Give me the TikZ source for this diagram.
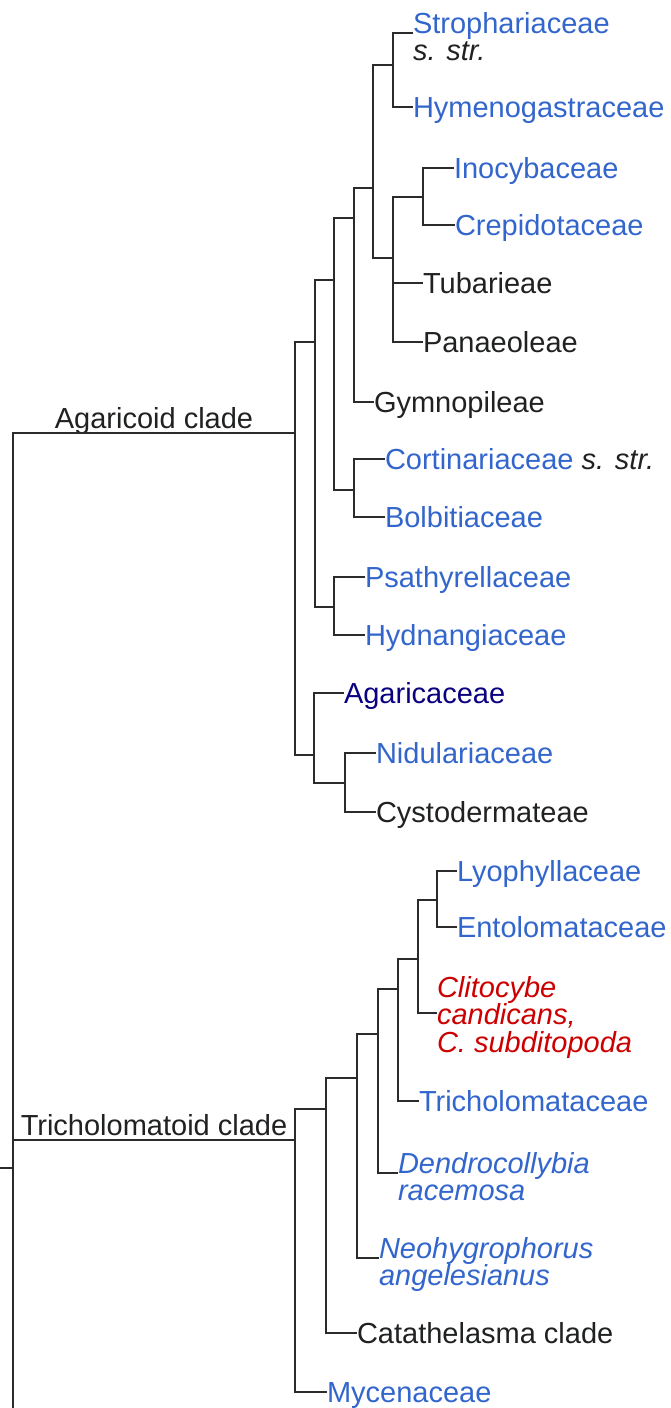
\documentclass[tikz,border=0pt]{standalone}
\usepackage{fontspec}
\setmainfont{Liberation Sans}
\definecolor{lnk}{HTML}{3366CC}
\definecolor{vis}{HTML}{0B0080}
\definecolor{redlnk}{HTML}{CC0000}
\definecolor{txt}{HTML}{202122}
\definecolor{edge}{HTML}{2B2B2B}
\begin{document}
\begin{tikzpicture}[x=1pt,y=-1pt,
  every node/.style={inner sep=0pt, outer sep=0pt, font=\fontsize{29}{27.5}\selectfont},
  leaf/.style={anchor=west, text height=20.8pt, text depth=0pt},
  multi/.style={anchor=base west},
  cladelbl/.style={anchor=base, text=txt},
  br/.style={draw=edge, line width=2.4pt}
]
\useasboundingbox[fill=white] (0,0) rectangle (671,1408);

% ---------- leaves: Agaricoid clade ----------
\node[multi,text=txt] (stro) at (413,33) {\vtop{\hbox{\color{lnk}Strophariaceae}\hbox{\itshape s. str.}}};
\node[leaf,text=lnk] (hyme) at (413,107) {Hymenogastraceae};
\node[leaf,text=lnk] (ino)  at (454,168) {Inocybaceae};
\node[leaf,text=lnk] (crep) at (455,225) {Crepidotaceae};
\node[leaf,text=txt] (tuba) at (423,283) {Tubarieae};
\node[leaf,text=txt] (pana) at (423,342) {Panaeoleae};
\node[leaf,text=txt] (gymn) at (374,402) {Gymnopileae};
\node[leaf,text=txt] (cort) at (385,459) {{\color{lnk}Cortinariaceae} \textit{s. str.}};
\node[leaf,text=lnk] (bolb) at (385,517) {Bolbitiaceae};
\node[leaf,text=lnk] (psat) at (365,577) {Psathyrellaceae};
\node[leaf,text=lnk] (hydn) at (365,635) {Hydnangiaceae};
\node[leaf,text=vis] (agar) at (344,693) {Agaricaceae};
\node[leaf,text=lnk] (nidu) at (376,753) {Nidulariaceae};
\node[leaf,text=txt] (cyst) at (376,812) {Cystodermateae};

% ---------- leaves: Tricholomatoid clade ----------
\node[leaf,text=lnk] (lyop) at (457,871) {Lyophyllaceae};
\node[leaf,text=lnk] (ento) at (457,927) {Entolomataceae};
\node[multi,text=redlnk] (clit) at (437,997) {\vtop{\itshape\hbox{Clitocybe}\hbox{candicans,}\hbox{C. subditopoda}}};
\node[leaf,text=lnk] (tric) at (419,1101) {Tricholomataceae};
\node[multi,text=lnk] (dend) at (398,1173) {\vtop{\itshape\hbox{Dendrocollybia}\hbox{racemosa}}};
\node[multi,text=lnk] (neoh) at (379,1258) {\vtop{\itshape\hbox{Neohygrophorus}\hbox{angelesianus}}};
\node[leaf,text=txt] (cata) at (357,1333) {Catathelasma clade};
\node[leaf,text=lnk] (myce) at (327,1392) {Mycenaceae};

% ---------- clade labels ----------
\node[cladelbl] (agl) at (154,428) {Agaricoid clade};
\node[cladelbl] (trl) at (154,1135) {Tricholomatoid clade};

% ---------- internal nodes ----------
\coordinate (rootin) at (-3,1168);
\coordinate (root) at (13,1168);
\coordinate (cut) at (13,1412);
\coordinate (A)  at (295,433);
\coordinate (C1) at (315,342);
\coordinate (C2) at (334,280);
\coordinate (C3) at (354,218);
\coordinate (C4) at (373,188);
\coordinate (SH) at (393,65);
\coordinate (C5) at (393,258);
\coordinate (IC) at (423,197);
\coordinate (CB) at (354,490);
\coordinate (PH) at (334,607);
\coordinate (AN) at (314,755);
\coordinate (NC) at (345,783);
\coordinate (T)  at (295,1140);
\coordinate (T1) at (326,1109);
\coordinate (T2) at (357,1078);
\coordinate (T3) at (378,1034);
\coordinate (T4) at (398,989);
\coordinate (T5) at (418,959);
\coordinate (LE) at (437,900);

% ---------- connectors ----------
\draw[br] (rootin) -- (root);
\draw[br] (root) |- (A);
\draw[br] (root) |- (T);
\draw[br] (root) -- (cut);

\draw[br] (A) |- (C1);
\draw[br] (A) |- (AN);
\draw[br] (C1) |- (C2);
\draw[br] (C1) |- (PH);
\draw[br] (C2) |- (C3);
\draw[br] (C2) |- (CB);
\draw[br] (C3) |- (C4);
\draw[br] (C3) |- (gymn.west);
\draw[br] (C4) |- (SH);
\draw[br] (C4) |- (C5);
\draw[br] (SH) |- (stro.base west);
\draw[br] (SH) |- (hyme.west);
\draw[br] (C5) |- (IC);
\draw[br] (C5) |- (tuba.west);
\draw[br] (C5) |- (pana.west);
\draw[br] (IC) |- (ino.west);
\draw[br] (IC) |- (crep.west);
\draw[br] (CB) |- (cort.west);
\draw[br] (CB) |- (bolb.west);
\draw[br] (PH) |- (psat.west);
\draw[br] (PH) |- (hydn.west);
\draw[br] (AN) |- (agar.west);
\draw[br] (AN) |- (NC);
\draw[br] (NC) |- (nidu.west);
\draw[br] (NC) |- (cyst.west);

\draw[br] (T) |- (T1);
\draw[br] (T) |- (myce.west);
\draw[br] (T1) |- (T2);
\draw[br] (T1) |- (cata.west);
\draw[br] (T2) |- (T3);
\draw[br] (T2) |- (neoh.base west);
\draw[br] (T3) |- (T4);
\draw[br] (T3) |- (dend.base west);
\draw[br] (T4) |- (T5);
\draw[br] (T4) |- (tric.west);
\draw[br] (T5) |- (LE);
\draw[br] (T5) |- ([yshift=-16pt]clit.base west);
\draw[br] (LE) |- (lyop.west);
\draw[br] (LE) |- (ento.west);
\end{tikzpicture}
\end{document}
